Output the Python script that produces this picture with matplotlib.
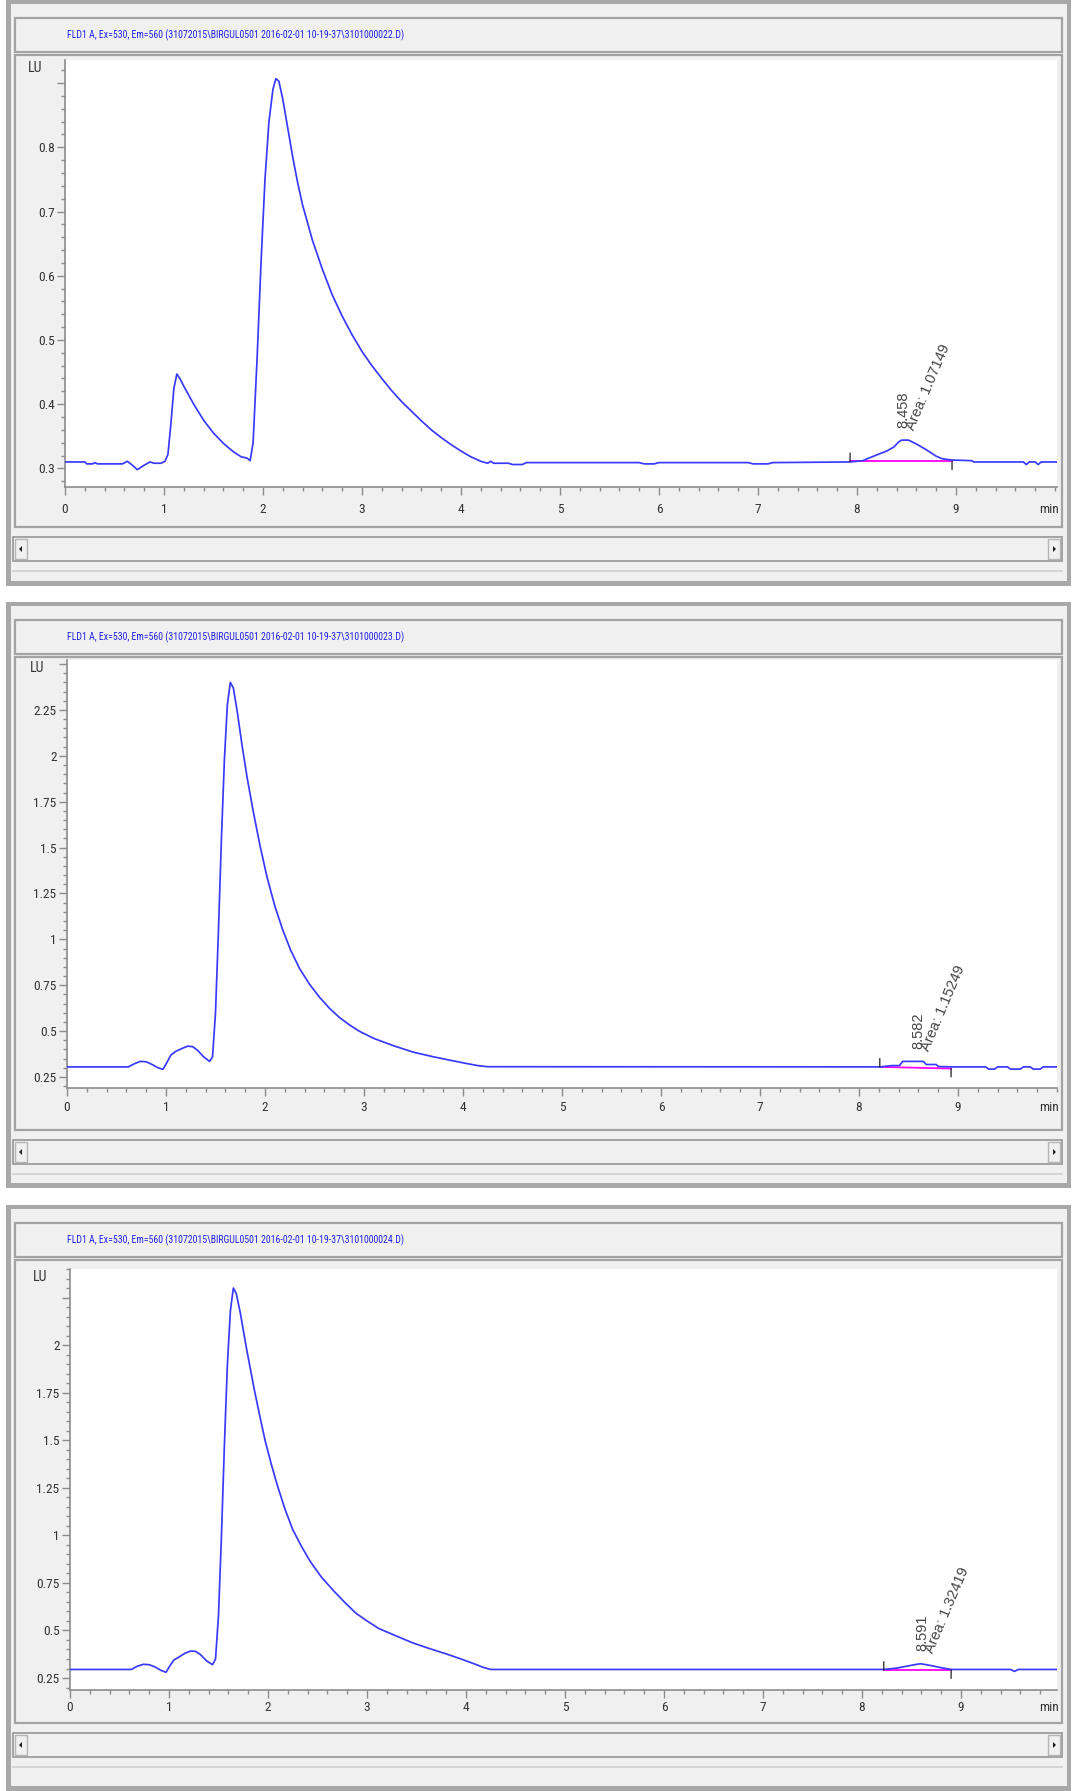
import matplotlib
matplotlib.use("Agg")
import matplotlib.pyplot as plt
from matplotlib import font_manager as fm
from matplotlib.patches import Rectangle, Polygon
from matplotlib.ticker import FixedLocator, MultipleLocator

# ---------------- data ----------------
titles = [
    "FLD1 A, Ex=530, Em=560 (31072015\\BIRGUL0501 2016-02-01 10-19-37\\3101000022.D)",
    "FLD1 A, Ex=530, Em=560 (31072015\\BIRGUL0501 2016-02-01 10-19-37\\3101000023.D)",
    "FLD1 A, Ex=530, Em=560 (31072015\\BIRGUL0501 2016-02-01 10-19-37\\3101000024.D)",
]

# run 22: retention time (min) and signal (LU)
t22 = [0.00, 0.20, 0.22, 0.28, 0.30, 0.33, 0.58, 0.63, 0.68, 0.73, 0.80, 0.86, 0.90, 0.97,
       1.01, 1.04, 1.07, 1.10, 1.13, 1.16, 1.20, 1.30, 1.40, 1.50, 1.60, 1.70, 1.78, 1.84,
       1.87, 1.90, 1.94, 1.98, 2.02, 2.06, 2.10, 2.13, 2.16, 2.20, 2.25, 2.30, 2.35, 2.40,
       2.50, 2.60, 2.70, 2.80, 2.90, 3.00, 3.10, 3.20, 3.30, 3.40, 3.50, 3.60, 3.70, 3.80,
       3.90, 4.00, 4.10, 4.20, 4.27, 4.30, 4.33, 4.48, 4.52, 4.62, 4.66, 5.80, 5.85, 5.95,
       6.00, 6.90, 6.95, 7.10, 7.15, 7.93, 8.06, 8.12, 8.20, 8.30, 8.37, 8.42, 8.45, 8.52,
       8.60, 8.70, 8.80, 8.86, 8.96, 9.16, 9.18, 9.68, 9.71, 9.74, 9.80, 9.83, 9.86, 10.1]
s22 = [0.310, 0.310, 0.307, 0.307, 0.309, 0.307, 0.307, 0.311, 0.305, 0.298, 0.305, 0.310, 0.308, 0.308,
       0.311, 0.322, 0.370, 0.425, 0.447, 0.440, 0.428, 0.400, 0.375, 0.355, 0.339, 0.326, 0.318, 0.316,
       0.312, 0.340, 0.470, 0.620, 0.750, 0.840, 0.890, 0.907, 0.903, 0.875, 0.830, 0.785, 0.745, 0.710,
       0.655, 0.610, 0.570, 0.537, 0.508, 0.482, 0.460, 0.440, 0.421, 0.404, 0.389, 0.374, 0.360, 0.348,
       0.337, 0.327, 0.318, 0.311, 0.308, 0.311, 0.308, 0.308, 0.306, 0.306, 0.309, 0.309, 0.307, 0.307,
       0.309, 0.309, 0.307, 0.307, 0.309, 0.310, 0.312, 0.316, 0.321, 0.327, 0.333, 0.341, 0.344, 0.344,
       0.338, 0.329, 0.319, 0.315, 0.313, 0.312, 0.310, 0.310, 0.306, 0.310, 0.310, 0.306, 0.310, 0.310]

# run 23
t23 = [0.00, 0.62, 0.68, 0.74, 0.80, 0.86, 0.92, 0.97, 1.01, 1.05, 1.10, 1.16, 1.22, 1.27,
       1.32, 1.38, 1.44, 1.47, 1.50, 1.53, 1.56, 1.59, 1.62, 1.65, 1.68, 1.72, 1.77, 1.82,
       1.88, 1.95, 2.02, 2.10, 2.18, 2.26, 2.35, 2.45, 2.55, 2.65, 2.75, 2.85, 2.95, 3.10,
       3.30, 3.50, 3.70, 3.90, 4.05, 4.15, 4.25, 8.21, 8.30, 8.33, 8.41, 8.44, 8.65, 8.68,
       8.78, 8.80, 8.93, 9.28, 9.31, 9.37, 9.40, 9.50, 9.53, 9.63, 9.66, 9.73, 9.76, 9.83,
       9.86, 9.95, 10.1]
s23 = [0.305, 0.305, 0.322, 0.335, 0.333, 0.318, 0.300, 0.292, 0.330, 0.370, 0.390, 0.405, 0.418, 0.415,
       0.395, 0.360, 0.335, 0.360, 0.600, 1.050, 1.550, 1.980, 2.280, 2.400, 2.370, 2.240, 2.050, 1.880,
       1.700, 1.510, 1.340, 1.180, 1.050, 0.940, 0.840, 0.755, 0.685, 0.625, 0.575, 0.535, 0.500, 0.460,
       0.420, 0.385, 0.360, 0.338, 0.322, 0.312, 0.306, 0.305, 0.310, 0.312, 0.312, 0.335, 0.335, 0.318,
       0.318, 0.307, 0.305, 0.305, 0.293, 0.293, 0.305, 0.305, 0.293, 0.293, 0.305, 0.305, 0.293, 0.293,
       0.305, 0.305, 0.305]

# run 24
t24 = [0.00, 0.62, 0.68, 0.74, 0.80, 0.86, 0.92, 0.97, 1.01, 1.05, 1.10, 1.16, 1.22, 1.27,
       1.32, 1.38, 1.44, 1.47, 1.50, 1.53, 1.56, 1.59, 1.62, 1.65, 1.68, 1.72, 1.78, 1.86,
       1.92, 1.97, 2.03, 2.09, 2.17, 2.25, 2.34, 2.43, 2.54, 2.66, 2.78, 2.89, 3.00, 3.12,
       3.30, 3.46, 3.63, 3.81, 3.95, 4.08, 4.18, 4.25, 8.22, 8.35, 8.45, 8.53, 8.59, 8.65,
       8.72, 8.80, 8.90, 9.50, 9.54, 9.58, 10.1]
s24 = [0.295, 0.295, 0.312, 0.322, 0.320, 0.308, 0.290, 0.280, 0.315, 0.345, 0.360, 0.380, 0.392, 0.390,
       0.372, 0.340, 0.320, 0.350, 0.580, 1.000, 1.480, 1.900, 2.180, 2.300, 2.270, 2.170, 1.990, 1.770,
       1.620, 1.500, 1.380, 1.270, 1.140, 1.030, 0.940, 0.860, 0.780, 0.710, 0.645, 0.590, 0.550, 0.510,
       0.470, 0.435, 0.405, 0.375, 0.350, 0.325, 0.305, 0.295, 0.295, 0.302, 0.312, 0.320, 0.325, 0.320,
       0.313, 0.304, 0.295, 0.295, 0.285, 0.295, 0.295]

# integrated peak: retention time, area, baseline start/end (min, LU)
peak_rt = [8.458, 8.582, 8.591]
peak_area = [1.07149, 1.15249, 1.32419]
base_start = [(7.93, 0.311), (8.21, 0.305), (8.22, 0.292)]
base_end = [(8.96, 0.311), (8.93, 0.296), (8.90, 0.292)]

# axis ranges and ticks
y_ranges = [(0.271, 0.936), (0.190, 2.522), (0.187, 2.400)]
y_major = [[0.3, 0.4, 0.5, 0.6, 0.7, 0.8, 0.9],
           [0.25, 0.5, 0.75, 1.0, 1.25, 1.5, 1.75, 2.0, 2.25, 2.5],
           [0.25, 0.5, 0.75, 1.0, 1.25, 1.5, 1.75, 2.0, 2.25]]
y_labels = [["0.3", "0.4", "0.5", "0.6", "0.7", "0.8", ""],
            ["0.25", "0.5", "0.75", "1", "1.25", "1.5", "1.75", "2", "2.25", ""],
            ["0.25", "0.5", "0.75", "1", "1.25", "1.5", "1.75", "2", ""]]
y_minor_step = [0.02, 0.05, 0.05]
x_major = [0, 1, 2, 3, 4, 5, 6, 7, 8, 9]
x_labels = ["0", "1", "2", "3", "4", "5", "6", "7", "8", "9"]
x_unit = "min"
y_unit = "LU"

traces = [(t22, s22), (t23, s23), (t24, s24)]

# ---------------- fonts ----------------
_fonts = fm.fontManager.ttflist
_names = {f.name for f in _fonts}
_narrow_names = ["Liberation Sans Narrow", "Roboto Condensed", "Arial Narrow",
                 "Nimbus Sans Narrow", "Open Sans Condensed", "Noto Sans Condensed",
                 "DejaVu Sans Condensed"]
_found = [n for n in _narrow_names if n in _names]
if _found:
    NARROW = dict(family=[_found[0], "DejaVu Sans"])
    TITLE_SIZE, TICK_SIZE = 7.1, 9.6
else:
    NARROW = dict(family=["Liberation Sans", "DejaVu Sans"])
    TITLE_SIZE, TICK_SIZE = 6.9, 8.8
PLAIN = dict(family=["Liberation Sans", "DejaVu Sans"])

# ---------------- figure ----------------
W, H = 1077, 1791
fig = plt.figure(figsize=(W / 100, H / 100), dpi=100)
fig.patch.set_facecolor("white")
bg = fig.add_axes([0, 0, 1, 1])
bg.set_xlim(0, W)
bg.set_ylim(H, 0)
bg.axis("off")

BLUE = "#3a3aff"
TITLE_BLUE = "#2222ee"
FACE = "#f0f0f0"
EDGE = "#a3a3a3"
LABEL = "#333333"

# window placement (pixels): top of window, plot top, x axis, scroll bar top
windows = [dict(top=0, plot=60, axis=487, scroll=537, pad=6),
           dict(top=602, plot=58, axis=486, scroll=538, pad=4),
           dict(top=1205, plot=64, axis=485, scroll=528, pad=2.5)]
zero_px = [65, 67, 70]
PX_PER_MIN = 99.0
RIGHT_PX = 1057


def rect(x0, y0, x1, y1, **kw):
    bg.add_patch(Rectangle((x0, y0), x1 - x0, y1 - y0, **kw))


def window(T, sc, title):
    rect(6, T, 1071, T + 586, fc="#a8a8a8", ec="none")
    rect(11, T + 4, 1067, T + 581, fc=FACE, ec="none")
    # title strip
    rect(15, T + 18, 1062, T + 52, fc=FACE, ec=EDGE, lw=1.6)
    bg.text(67, T + 35, title, color=TITLE_BLUE, fontsize=TITLE_SIZE,
            ha="left", va="center", **NARROW)
    # graphics area
    rect(15, T + 55, 1062, T + sc - 10, fc=FACE, ec=EDGE, lw=1.6)
    # scroll bar
    rect(13, T + sc, 1062, T + sc + 24, fc=FACE, ec="#9c9c9c", lw=1.3)
    rect(15, T + sc + 2, 27, T + sc + 22, fc=FACE, ec="#b5b5b5", lw=1.0)
    rect(1048, T + sc + 2, 1060, T + sc + 22, fc=FACE, ec="#b5b5b5", lw=1.0)
    cy = T + sc + 12
    bg.add_patch(Polygon([(19, cy), (22, cy - 3), (22, cy + 3)], closed=True,
                         fc="#202020", ec="none"))
    bg.add_patch(Polygon([(1056, cy), (1053, cy - 3), (1053, cy + 3)], closed=True,
                         fc="#202020", ec="none"))
    bg.plot([13, 1062], [T + sc + 34, T + sc + 34], color="#cfcfcf", lw=1.2)


def px_axes(x0, y0, x1, y1):
    return fig.add_axes([x0 / W, 1 - y1 / H, (x1 - x0) / W, (y1 - y0) / H])


for i in range(3):
    win = windows[i]
    T = win["top"]
    window(T, win["scroll"], titles[i])
    x0 = zero_px[i]
    x_max = (RIGHT_PX - x0) / PX_PER_MIN
    ax = px_axes(x0, T + win["plot"], RIGHT_PX, T + win["axis"])
    ax.set_facecolor("white")
    ax.set_xlim(0, x_max)
    ax.set_ylim(*y_ranges[i])
    for side in ("top", "right"):
        ax.spines[side].set_visible(False)
    for side in ("left", "bottom"):
        ax.spines[side].set_color("#8c8c8c")
        ax.spines[side].set_linewidth(1.2)

    ax.xaxis.set_major_locator(FixedLocator(x_major))
    ax.set_xticklabels(x_labels)
    ax.xaxis.set_minor_locator(MultipleLocator(0.2))
    ax.yaxis.set_major_locator(FixedLocator(y_major[i]))
    ax.set_yticklabels(y_labels[i])
    ax.yaxis.set_minor_locator(MultipleLocator(y_minor_step[i]))
    ax.tick_params(which="both", direction="out", color="#8c8c8c", width=1.0,
                   labelcolor=LABEL, labelsize=TICK_SIZE)
    ax.tick_params(which="major", length=5.5, pad=2)
    ax.tick_params(which="minor", length=3)
    ax.tick_params(axis="x", which="major", pad=win["pad"])
    for lab in ax.get_xticklabels() + ax.get_yticklabels():
        lab.set_fontproperties(fm.FontProperties(size=TICK_SIZE, **NARROW))

    ax.text(-0.023, 0.982, y_unit, transform=ax.transAxes, ha="right", va="center",
            fontsize=TICK_SIZE + 0.5, color=LABEL, **NARROW)
    ax.annotate(x_unit, xy=(x_max - 0.08, 0), xycoords=ax.get_xaxis_transform(),
                xytext=(0, -(5.5 + win["pad"])), textcoords="offset points",
                ha="center", va="top", fontsize=TICK_SIZE, color=LABEL, **NARROW)

    t, s = traces[i]
    ax.plot(t, s, color=BLUE, lw=1.25, solid_joinstyle="round", zorder=3)

    # integration baseline and start/stop marks
    (bx0, by0), (bx1, by1) = base_start[i], base_end[i]
    ax.plot([bx0, bx1], [by0, by1], color="#ff00ff", lw=1.3, zorder=2)
    ax.annotate("", xy=(bx0, by0), xytext=(0, 6), textcoords="offset points",
                arrowprops=dict(arrowstyle="-", color="#202020", lw=0.9,
                                shrinkA=0, shrinkB=0))
    ax.annotate("", xy=(bx1, by1), xytext=(0, -6), textcoords="offset points",
                arrowprops=dict(arrowstyle="-", color="#202020", lw=0.9,
                                shrinkA=0, shrinkB=0))

    # peak labels
    rt = peak_rt[i]
    top = max(v for tt, v in zip(t, s) if bx0 <= tt <= bx1)
    ax.annotate(f"{rt:.3f}", xy=(rt, top), xytext=(1, 9), textcoords="offset points",
                rotation=90, ha="center", va="bottom", fontsize=10.5,
                color="#454545", **PLAIN)
    ax.annotate(f"Area: {peak_area[i]:.5f}", xy=(rt, top),
                xytext=(6, 8), textcoords="offset points", rotation=67,
                rotation_mode="anchor", ha="left", va="center", fontsize=10.5,
                color="#454545", **PLAIN)

fig.savefig("out.png", dpi=100, facecolor="white")
